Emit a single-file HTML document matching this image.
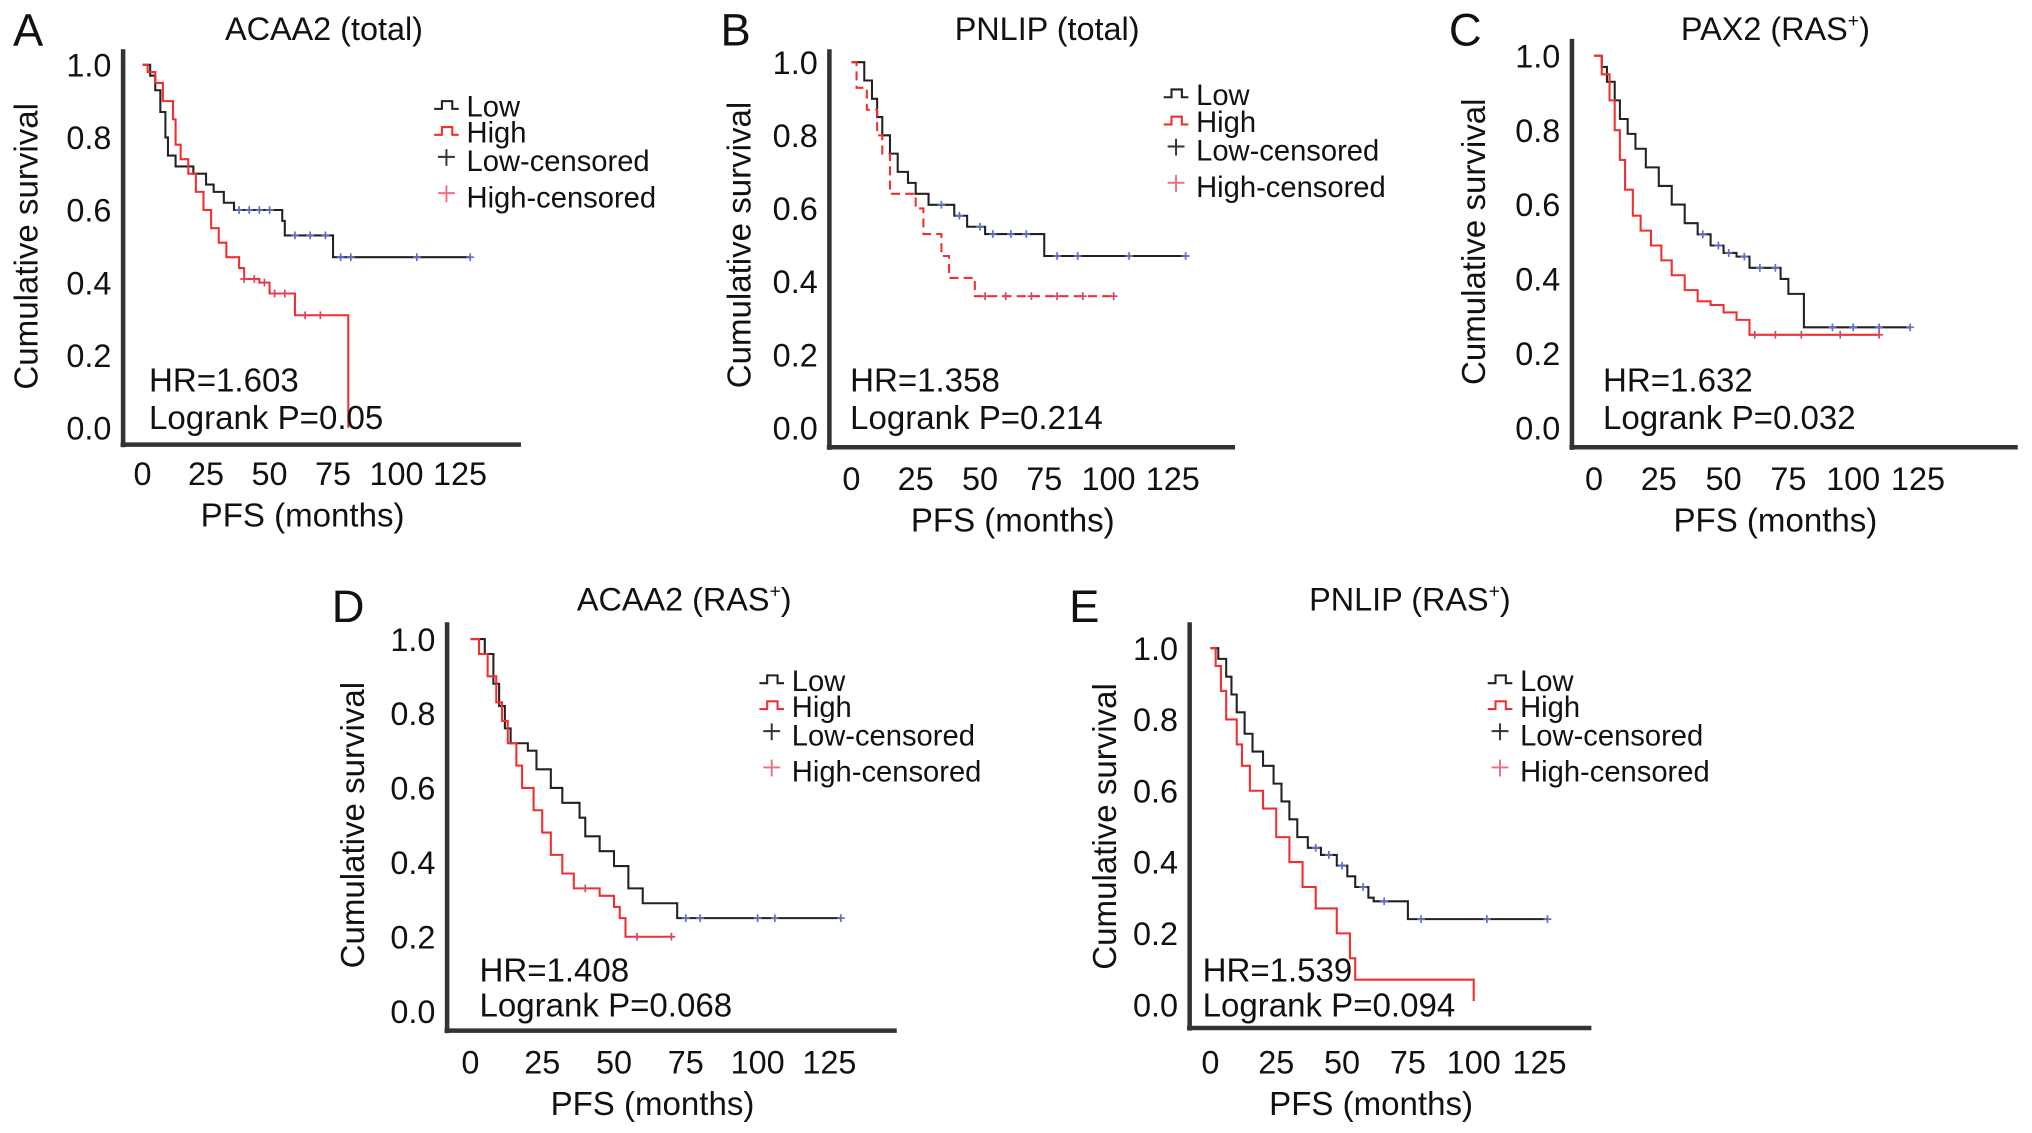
<!DOCTYPE html>
<html><head><meta charset="utf-8"><style>
html,body{margin:0;padding:0;background:#fff;}
svg{display:block;font-family:"Liberation Sans",Arial,sans-serif;}
</style></head><body>
<svg id="fig" width="2032" height="1133" viewBox="0 0 1568 874" preserveAspectRatio="none" xmlns="http://www.w3.org/2000/svg"></svg>
<script>
// ---- data (time in months, cumulative survival) ----
const xTicks=[0,25,50,75,100,125];
const yTicks=[0,0.2,0.4,0.6,0.8,1.0];
const aLowT=[0,3,5,7,9,10,13,20,25,28,32,36,55,56,75,129];
const aLowS=[1,.97,.93,.87,.80,.75,.72,.70,.67,.65,.62,.60,.57,.53,.47,.47];
const aHighT=[0,2,5,8,12,13,15,18,21,24,27,30,33,38,40,46,50,60,81];
const aHighS=[1,.98,.95,.90,.85,.78,.74,.70,.65,.60,.55,.51,.47,.44,.41,.40,.37,.31,0];
const aLowCens=[38,42,46,50,60,66,72,78,82,108,129];
const aHighCens=[40,44,48,52,56,64,70];
const bLowT=[0,5,8,10,12,15,18,22,25,30,40,45,52,75,130];
const bLowS=[1,.95,.90,.85,.80,.75,.70,.67,.64,.61,.58,.55,.53,.47,.47];
const bHighT=[0,2,6,10,12,15,25,28,35,38,48,102];
const bHighS=[1,.93,.87,.80,.75,.64,.60,.53,.47,.41,.36,.36];
const bLowCens=[35,42,50,55,62,68,80,88,108,130];
const bHighCens=[52,60,70,80,90,102];
const cLowT=[0,3,5,8,10,13,16,20,25,30,35,40,45,50,55,60,72,75,81,122];
const cLowS=[1,.97,.93,.88,.83,.79,.75,.70,.65,.60,.55,.52,.49,.47,.46,.43,.40,.36,.27,.27];
const cHighT=[0,3,6,8,10,12,15,18,22,26,30,35,40,45,50,55,60,110];
const cHighS=[1,.95,.88,.80,.72,.64,.57,.53,.49,.45,.41,.37,.34,.33,.31,.29,.25,.25];
const cLowCens=[42,48,52,58,64,70,92,100,110,122];
const cHighCens=[62,70,80,95,110];
const dLowT=[0,5,8,10,12,14,20,23,28,32,38,40,45,50,55,60,72,129];
const dLowS=[1,.96,.88,.82,.76,.72,.70,.65,.60,.56,.52,.47,.43,.39,.33,.29,.25,.25];
const dHighT=[0,3,6,9,11,13,16,18,22,25,28,32,36,45,50,52,54,70];
const dHighS=[1,.96,.90,.83,.78,.72,.66,.60,.54,.48,.42,.37,.33,.31,.28,.25,.20,.20];
const dLowCens=[75,80,100,106,129];
const dHighCens=[40,58,70];
const eLowT=[0,3,6,8,10,13,16,20,24,27,30,33,37,42,48,52,55,60,62,75,128];
const eLowS=[1,.97,.92,.87,.82,.76,.71,.67,.62,.57,.52,.47,.44,.42,.39,.36,.33,.30,.29,.24,.24];
const eHighT=[0,2,4,6,10,12,15,20,25,30,35,40,48,53,55,100,100];
const eHighS=[1,.95,.88,.80,.73,.67,.60,.55,.47,.40,.33,.27,.20,.13,.07,.07,.01];
const eLowCens=[40,45,50,58,66,80,105,128];
const eHighCens=[];

const NS="http://www.w3.org/2000/svg";
const svg=document.getElementById('fig');
function mk(tag,attrs,parent){const e=document.createElementNS(NS,tag);for(const k in attrs)e.setAttribute(k,attrs[k]);(parent||svg).appendChild(e);return e;}
function txt(parent,x,y,s,size,anchor){const t=mk('text',{x:x,y:y,'font-size':size,'text-anchor':anchor||'start',fill:'#111'},parent);t.textContent=s;return t;}

const panels=[
 {id:'a',letter:'A',lx:10,ly:35,title:'ACAA2 (total)',sup:'',tx:250,ty:31,ax:95,atop:38,ay:343,aright:402,x0:110,x125:355,y1:50,y0:330,ytx:28,xly:374,xty:406,legx:335,legy:[86,106,128,156],hry:[302,331],hrx:115,hr:'HR=1.603',p:'Logrank P=0.05',
  low:[aLowT,aLowS],high:[aHighT,aHighS],lc:aLowCens,hc:aHighCens,dash:false},
 {id:'b',letter:'B',lx:556,ly:35,title:'PNLIP (total)',sup:'',tx:808,ty:31,ax:640,atop:38,ay:345,aright:953,x0:657,x125:905,y1:48,y0:330,ytx:578,xly:378,xty:410,legx:898,legy:[77,98,120,148],hry:[302,331],hrx:656,hr:'HR=1.358',p:'Logrank P=0.214',
  low:[bLowT,bLowS],high:[bHighT,bHighS],lc:bLowCens,hc:bHighCens,dash:true},
 {id:'c',letter:'C',lx:1118,ly:35,title:'PAX2 (RAS',sup:'+',tx:1370,ty:31,ax:1213,atop:30,ay:345,aright:1557,x0:1230,x125:1480,y1:43,y0:330,ytx:1145,xly:378,xty:410,legx:null,hry:[302,331],hrx:1237,hr:'HR=1.632',p:'Logrank P=0.032',
  low:[cLowT,cLowS],high:[cHighT,cHighS],lc:cLowCens,hc:cHighCens,dash:false},
 {id:'d',letter:'D',lx:256,ly:480,title:'ACAA2 (RAS',sup:'+',tx:528,ty:471,ax:345,atop:480,ay:795,aright:692,x0:363,x125:640,y1:493,y0:780,ytx:280,xly:828,xty:860,legx:586,legy:[529,549,571,599],hry:[757,784],hrx:370,hr:'HR=1.408',p:'Logrank P=0.068',
  low:[dLowT,dLowS],high:[dHighT,dHighS],lc:dLowCens,hc:dHighCens,dash:false},
 {id:'e',letter:'E',lx:825,ly:480,title:'PNLIP (RAS',sup:'+',tx:1088,ty:471,ax:918,atop:480,ay:793,aright:1228,x0:934,x125:1188,y1:500,y0:775,ytx:860,xly:828,xty:860,legx:1148,legy:[529,549,571,599],hry:[757,784],hrx:928,hr:'HR=1.539',p:'Logrank P=0.094',
  low:[eLowT,eLowS],high:[eHighT,eHighS],lc:eLowCens,hc:eHighCens,dash:false}
];

function stepPath(T,S,X,Y){let d='M'+X(T[0])+','+Y(S[0]);for(let i=1;i<T.length;i++){d+=' H'+X(T[i])+' V'+Y(S[i]);}return d;}
function survAt(T,S,t){let s=S[0];for(let i=0;i<T.length;i++){if(T[i]<=t)s=S[i];}return s;}

panels.forEach(p=>{
 const g=mk('g',{});
 
 
 const X=t=>p.x0+(p.x125-p.x0)*t/125;
 const Y=s=>p.y0-(p.y0-p.y1)*s;
 const L=txt(g,p.lx,p.ly,p.letter,35);
 const ti=txt(g,p.tx,p.ty,p.title,25,'middle');
 if(p.sup){const ts=mk('tspan',{'font-size':15,dy:-10},ti);ts.textContent=p.sup;const tc=mk('tspan',{'font-size':25,dy:10},ti);tc.textContent=')';}
 const ya=mk('line',{x1:p.ax,y1:p.atop,x2:p.ax,y2:p.ay+2,stroke:'#333','stroke-width':3.5},g);
 const xa=mk('line',{x1:p.ax-2,y1:p.ay,x2:p.aright,y2:p.ay,stroke:'#333','stroke-width':3.5},g);
 yTicks.forEach(v=>{const t=txt(g,p.ax-9,Y(v)+9,v.toFixed(1),25,'end');});
 xTicks.forEach(v=>{const t=txt(g,X(v),p.xly,String(v),25,'middle');});
 const xt=txt(g,(p.ax+p.aright)/2-15,p.xty,'PFS (months)',25.5,'middle');
 const ym=(p.y0+p.y1)/2;
 const yt=txt(g,0,0,'Cumulative survival',25.5,'middle');yt.setAttribute('transform','translate('+(p.ytx+1)+','+ym+') rotate(-90)');
 const lo=mk('path',{d:stepPath(p.low[0],p.low[1],X,Y),fill:'none',stroke:'#222','stroke-width':1.6},g);
 const hi=mk('path',{d:stepPath(p.high[0],p.high[1],X,Y),fill:'none',stroke:'#f03030','stroke-width':1.6},g);
 if(p.dash)hi.setAttribute('stroke-dasharray','7,4');
 p.lc.forEach(t=>{const cx=X(t),cy=Y(survAt(p.low[0],p.low[1],t));const c=mk('path',{d:'M'+(cx-3)+','+cy+' H'+(cx+3)+' M'+cx+','+(cy-3)+' V'+(cy+3),stroke:'#6070c8','stroke-width':1.3},g);});
 p.hc.forEach(t=>{const cx=X(t),cy=Y(survAt(p.high[0],p.high[1],t));const c=mk('path',{d:'M'+(cx-3)+','+cy+' H'+(cx+3)+' M'+cx+','+(cy-3)+' V'+(cy+3),stroke:'#e04060','stroke-width':1.3},g);});
 const h=txt(g,p.hrx,p.hry[0],p.hr,25.5);
 const pv=txt(g,p.hrx,p.hry[1],p.p,25.5);
 if(p.legx!==null){
  const lg=mk('g',{},g);
  const lx=p.legx,ly=p.legy;
  const e1=mk('path',{d:'M'+lx+','+(ly[0]-2)+' h6 v-6 h8 v6 h5',fill:'none',stroke:'#222','stroke-width':1.6},lg);
  const e2=mk('path',{d:'M'+lx+','+(ly[1]-2)+' h6 v-6 h8 v6 h5',fill:'none',stroke:'#f03030','stroke-width':1.6},lg);
  const c1=mk('path',{d:'M'+(lx+3)+','+(ly[2]-7)+' h13 M'+(lx+9.5)+','+(ly[2]-13)+' v13',stroke:'#333','stroke-width':1.5},lg);
  const c2=mk('path',{d:'M'+(lx+3)+','+(ly[3]-7)+' h13 M'+(lx+9.5)+','+(ly[3]-13)+' v13',stroke:'#f07080','stroke-width':1.5},lg);
  ['Low','High','Low-censored','High-censored'].forEach((s,i)=>{const t=txt(lg,lx+25,ly[i]+4,s,22.5);});
 }
});
</script>
</body></html>
